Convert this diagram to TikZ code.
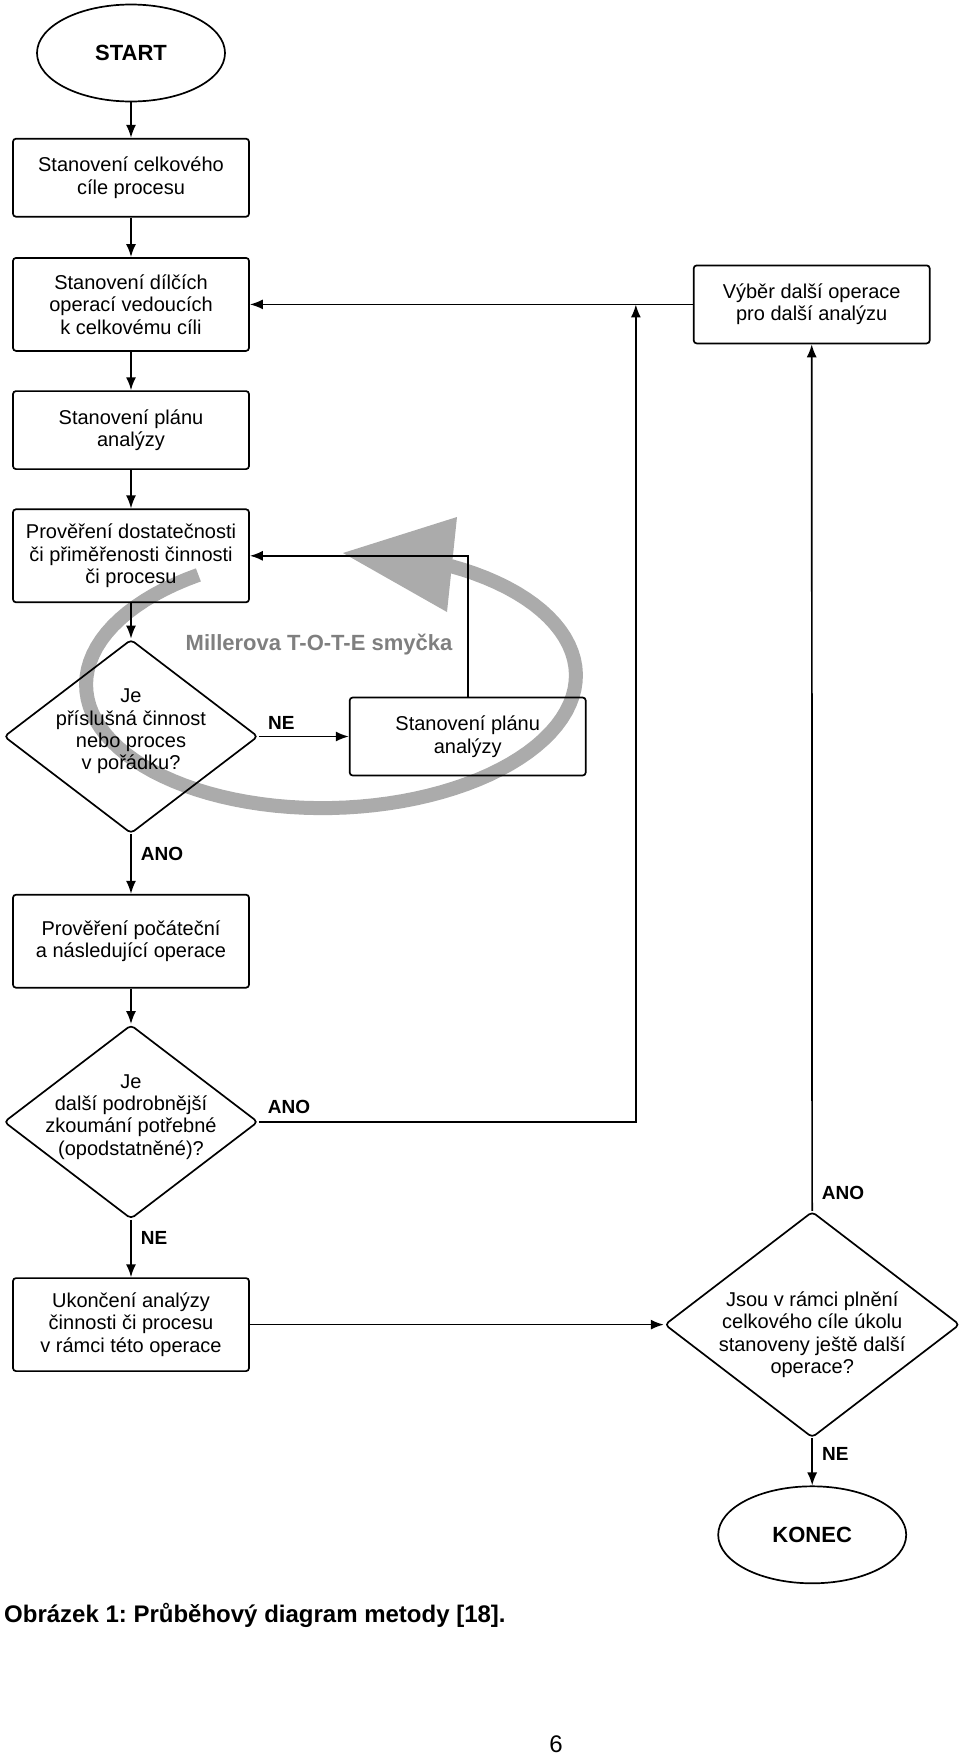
\documentclass[tikz,border=0pt]{standalone}
\usepackage{fontspec}
\setmainfont{Liberation Sans}
\usepackage{tikz}
\usetikzlibrary{arrows.meta,positioning,shapes.geometric,calc}
\frenchspacing
\definecolor{loopgray}{HTML}{ABABAB}
\definecolor{looptext}{HTML}{7F7F7F}
\tikzset{
  terminal/.style={ellipse,draw,line width=1.7pt,minimum width=188pt,minimum height=97pt,font=\fontsize{22}{24}\selectfont\bfseries},
  flow/.style={rectangle,rounded corners=3pt,draw,line width=1.7pt,minimum width=236pt,minimum height=78pt,align=center,inner sep=3pt,font=\fontsize{20}{22.5}\selectfont},
  tallflow/.style={flow,minimum height=93pt},
  decision/.style={diamond,draw,line width=1.7pt,rounded corners=4pt,minimum width=254pt,minimum height=194pt,inner sep=0pt},
  qtext/.style={align=center,inner sep=0pt,font=\fontsize{20}{22.3}\selectfont},
  answer/.style={font=\fontsize{19}{21}\selectfont\bfseries,inner sep=3pt},
  sideanswer/.style={answer,right,xshift=6pt},
  totetext/.style={font=\fontsize{22}{24}\selectfont\bfseries,text=looptext},
  arrow/.style={-{Latex[length=13pt,width=10pt]},line width=1.7pt},
  line/.style={line width=1.7pt}
}
\begin{document}
\begin{tikzpicture}[x=1pt,y=-1pt,node distance=38.5pt]
  \useasboundingbox (0,0) rectangle (960,1754);
  % T-O-T-E loop behind the chart
  \begin{scope}[rotate around={1.5:(331,680)}]
    \draw[loopgray,line width=14pt] plot[domain=-122:-420,samples=90] ({331+245*cos(\x)},{680+128*sin(\x)});
  \end{scope}
  \fill[loopgray] (343,553) -- (457,517) -- (447,612) -- cycle;
  \node[totetext] (tote) at (319,645) {Millerova T-O-T-E smyčka};
  % main column
  \node[terminal] (start) at (131,53) {START};
  \node[flow, below=35.5pt of start] (goal) {Stanovení celkového\\cíle procesu};
  \node[tallflow, below=39.5pt of goal] (subops) {Stanovení dílčích\\operací vedoucích\\k celkovému cíli};
  \node[flow, below=of subops] (plan) {Stanovení plánu\\analýzy};
  \node[tallflow, below=of plan] (test) {Prověření dostatečnosti\\či přiměřenosti činnosti\\či procesu};
  \node[decision, below=35.5pt of test] (ok) {};
  \node[qtext, yshift=5pt] (oktext) at (ok) {Je\\příslušná činnost\\nebo proces\\v pořádku?};
  \node[flow, right=90pt of ok] (replan) {Stanovení plánu\\analýzy};
  \node[tallflow, below=59.5pt of ok] (check) {Prověření počáteční\\a následující operace};
  \node[decision, below=35.5pt of check] (deeper) {};
  \node[qtext, yshift=5pt] (deepertext) at (deeper) {Je\\další podrobnější\\zkoumání potřebné\\(opodstatněné)?};
  \node[tallflow, below=57.5pt of deeper] (finish) {Ukončení analýzy\\činnosti či procesu\\v rámci této operace};
  % right column
  \node[flow, right=443pt of subops] (next) {Výběr další operace\\pro další analýzu};
  \coordinate[left=57pt of next.west] (join);
  \node[decision, minimum width=295pt, minimum height=226pt, right=414pt of finish] (more) {};
  \node[qtext, yshift=-10pt] (moretext) at (more) {Jsou v rámci plnění\\celkového cíle úkolu\\stanoveny ještě další\\operace?};
  \node[terminal, below=47pt of more] (end) {KONEC};
  % connectors
  \draw[arrow] (start) -- (goal);
  \draw[arrow] (goal) -- (subops);
  \draw[arrow] (subops) -- (plan);
  \draw[arrow] (plan) -- (test);
  \draw[arrow] (test) -- (ok);
  \draw[arrow] (ok) -- node[answer, pos=0.25, above, yshift=3pt]{NE} (replan);
  \draw[arrow] (replan.north) |- (test.east);
  \draw[arrow] (ok) -- node[sideanswer, pos=0.33]{ANO} (check);
  \draw[arrow] (check) -- (deeper);
  \draw[arrow] (deeper.east) -| node[answer, pos=0.04, above, yshift=4pt]{ANO} (join);
  \draw[arrow] (next.west) -- (subops.east);
  \draw[arrow] (deeper) -- node[sideanswer, pos=0.32]{NE} (finish);
  \draw[arrow] (finish) -- (more);
  \draw[arrow] (more) -- node[sideanswer, pos=0.02]{ANO} (next);
  \draw[arrow] (more) -- node[sideanswer, pos=0.33]{NE} (end);
  % caption and page number
  \node[anchor=base west, inner sep=0pt, font=\fontsize{24}{26}\selectfont\bfseries] (caption) at (4,1622) {Obrázek 1: Průběhový diagram metody [18].};
  \node[anchor=base, inner sep=0pt, font=\fontsize{24}{26}\selectfont] (pagenum) at (556,1752) {6};
\end{tikzpicture}
\end{document}
